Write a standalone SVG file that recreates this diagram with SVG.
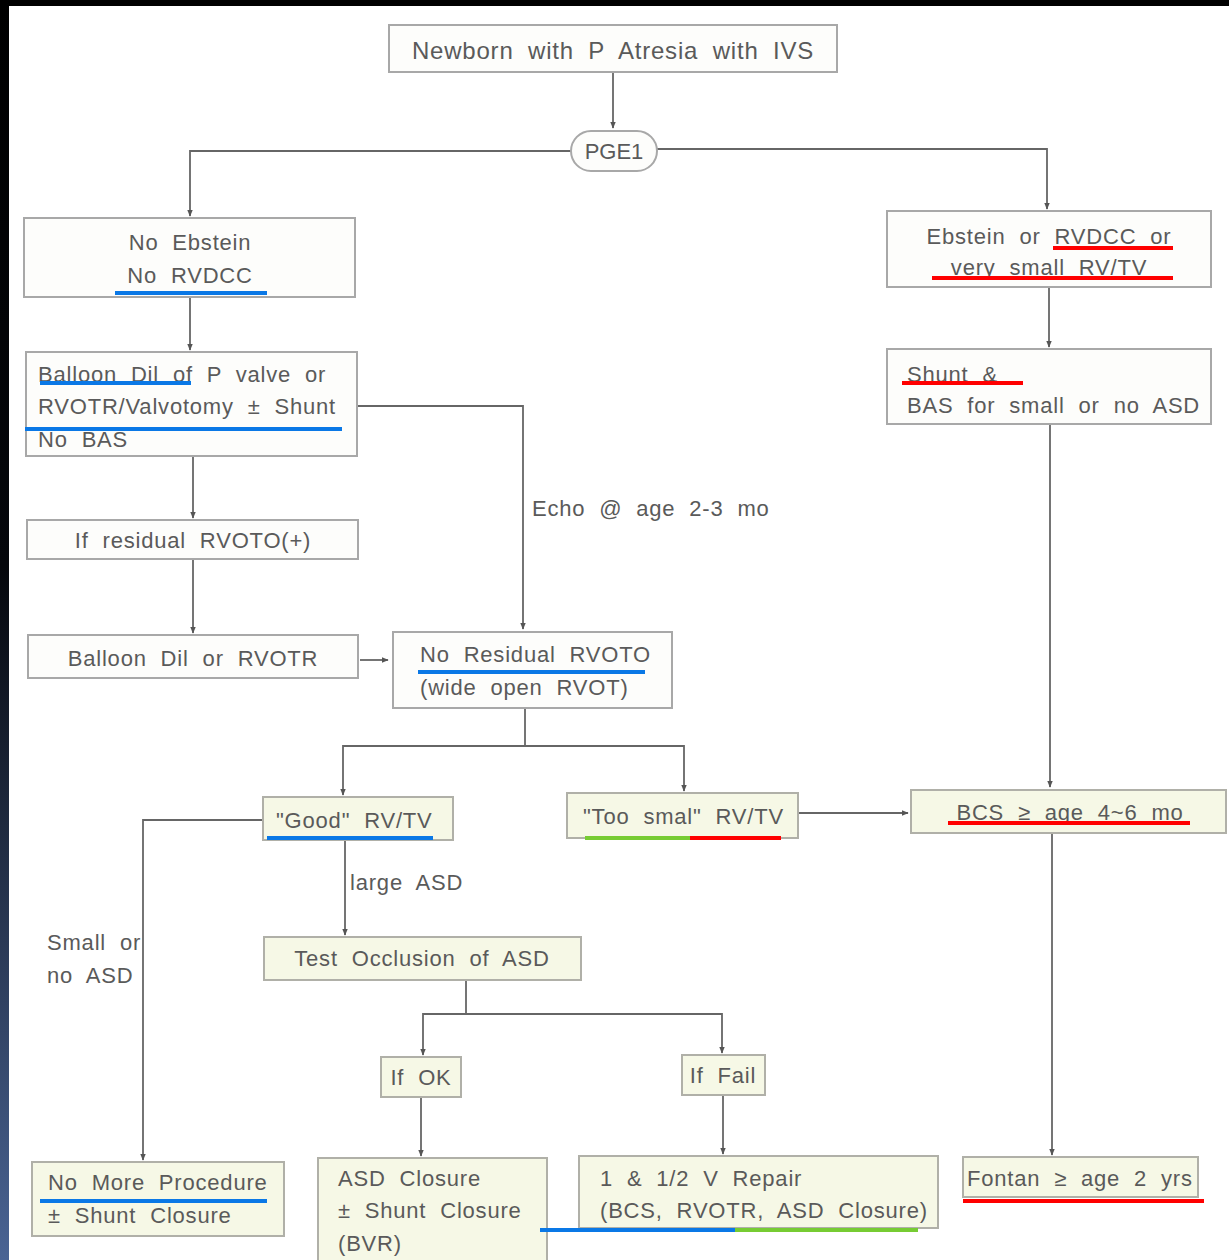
<svg xmlns="http://www.w3.org/2000/svg" width="1229" height="1260" viewBox="0 0 1229 1260">
<defs>
<linearGradient id="edge" x1="0" y1="0" x2="0" y2="1">
<stop offset="0" stop-color="#000"/><stop offset="0.45" stop-color="#05070c"/><stop offset="1" stop-color="#4a6494"/>
</linearGradient>
<marker id="ah" viewBox="0 0 10 10" refX="9" refY="5" markerWidth="7" markerHeight="7" orient="auto" markerUnits="userSpaceOnUse">
<path d="M0,1 L10,5 L0,9 z" fill="#555"/>
</marker>
<style>
.b{fill:#fdfdfb;stroke:#a8a8a8;stroke-width:2}
.y{fill:#f6f8e6;stroke:#b0b0a8;stroke-width:2}
.t{font-family:"Liberation Sans","DejaVu Sans",sans-serif;font-size:22px;fill:#5a5a5a;word-spacing:7px;letter-spacing:0.8px}
.c{text-anchor:middle}
.l{fill:none;stroke:#666;stroke-width:1.8}
.a{marker-end:url(#ah)}
.ub{stroke:#0a78e6;stroke-width:4}
.ur{stroke:#f00;stroke-width:4}
.ug{stroke:#77cc33;stroke-width:4}
</style>
</defs>
<rect width="1229" height="1260" fill="#fff"/>
<rect x="0" y="0" width="1229" height="6" fill="#000"/>
<rect x="0" y="0" width="9" height="1260" fill="url(#edge)"/>

<g id="connectors">
<path class="l a" d="M613,72 V128"/>
<path class="l a" d="M571,151 H190 V216"/>
<path class="l a" d="M657,149 H1047 V209"/>
<path class="l a" d="M190,297 V350"/>
<path class="l a" d="M357,406 H523 V629"/>
<path class="l a" d="M193,456 V518"/>
<path class="l a" d="M193,559 V633"/>
<path class="l a" d="M360,660 H388"/>
<path class="l" d="M525,708 V746"/>
<path class="l a" d="M525,746 H343 V795"/>
<path class="l a" d="M525,746 H684 V791"/>
<path class="l a" d="M798,813 H908"/>
<path class="l a" d="M1049,287 V347"/>
<path class="l a" d="M1050,424 V787"/>
<path class="l a" d="M1052,833 V1155"/>
<path class="l a" d="M263,820 H143 V1160"/>
<path class="l a" d="M345,840 V935"/>
<path class="l" d="M466,980 V1014"/>
<path class="l a" d="M466,1014 H423 V1055"/>
<path class="l a" d="M466,1014 H722 V1053"/>
<path class="l a" d="M421,1097 V1156"/>
<path class="l a" d="M723,1095 V1154"/>
<text class="t" x="532" y="516">Echo @ age 2-3 mo</text>
<text class="t" x="350" y="890">large ASD</text>
<text class="t" x="47" y="950">Small or</text>
<text class="t" x="47" y="983">no ASD</text>
</g>

<g id="n-newborn"><rect class="b" x="389" y="25" width="448" height="47"/><text class="t c" x="613" y="59" style="font-size:24px">Newborn with P Atresia with IVS</text></g>
<g id="n-pge1"><rect class="b" x="571" y="131" width="86" height="40" rx="20"/><text class="t c" x="614" y="159" style="word-spacing:0;letter-spacing:0">PGE1</text></g>
<g id="n-noebstein"><rect class="b" x="24" y="218" width="331" height="79"/><text class="t c" x="190" y="250">No Ebstein</text><text class="t c" x="190" y="283">No RVDCC</text><line class="ub" x1="115" y1="293" x2="267" y2="293"/></g>
<g id="n-balloon1"><rect class="b" x="26" y="352" width="331" height="104"/><text class="t" x="38" y="382">Balloon Dil of P valve or</text><text class="t" x="38" y="414">RVOTR/Valvotomy ± Shunt</text><text class="t" x="38" y="447">No BAS</text><line class="ub" x1="40" y1="383" x2="191" y2="383"/><line class="ub" x1="25" y1="429" x2="342" y2="429"/></g>
<g id="n-residual"><rect class="b" x="27" y="520" width="331" height="39"/><text class="t c" x="193" y="548">If residual RVOTO(+)</text></g>
<g id="n-balloon2"><rect class="b" x="28" y="635" width="330" height="43"/><text class="t c" x="193" y="666">Balloon Dil or RVOTR</text></g>
<g id="n-noresidual"><rect class="b" x="393" y="632" width="279" height="76"/><text class="t" x="420" y="662">No Residual RVOTO</text><text class="t" x="420" y="695">(wide open RVOT)</text><line class="ub" x1="418" y1="672" x2="645" y2="672"/></g>
<g id="n-good"><rect class="y" x="263" y="797" width="190" height="43"/><text class="t" x="276" y="828">"Good" RV/TV</text><line class="ub" x1="267" y1="838" x2="433" y2="838"/></g>
<g id="n-toosmall"><rect class="y" x="567" y="793" width="231" height="45"/><text class="t" x="583" y="824">"Too smal" RV/TV</text><line class="ug" x1="585" y1="838" x2="690" y2="838"/><line class="ur" x1="690" y1="838" x2="781" y2="838"/></g>
<g id="n-ebstein"><rect class="b" x="887" y="211" width="324" height="76"/><text class="t c" x="1049" y="244">Ebstein or RVDCC or</text><text class="t c" x="1049" y="275">very small RV/TV</text><line class="ur" x1="1053" y1="248" x2="1173" y2="248"/><line class="ur" x1="932" y1="278" x2="1173" y2="278"/></g>
<g id="n-shunt"><rect class="b" x="887" y="349" width="324" height="75"/><text class="t" x="907" y="382">Shunt &amp;</text><text class="t" x="907" y="413">BAS for small or no ASD</text><line class="ur" x1="902" y1="383" x2="1023" y2="383"/></g>
<g id="n-bcs"><rect class="y" x="911" y="790" width="315" height="43"/><text class="t c" x="1070" y="820">BCS ≥ age 4~6 mo</text><line class="ur" x1="948" y1="823" x2="1190" y2="823"/></g>
<g id="n-test"><rect class="y" x="264" y="937" width="317" height="43"/><text class="t c" x="422" y="966">Test Occlusion of ASD</text></g>
<g id="n-ifok"><rect class="y" x="381" y="1057" width="80" height="40"/><text class="t c" x="421" y="1085">If OK</text></g>
<g id="n-iffail"><rect class="y" x="682" y="1055" width="83" height="40"/><text class="t c" x="723" y="1083">If Fail</text></g>
<g id="n-nomore"><rect class="y" x="32" y="1162" width="252" height="74"/><text class="t" x="48" y="1190">No More Procedure</text><text class="t" x="48" y="1223">± Shunt Closure</text><line class="ub" x1="40" y1="1201" x2="267" y2="1201"/></g>
<g id="n-asd"><rect class="y" x="318" y="1158" width="229" height="110"/><text class="t" x="338" y="1186">ASD Closure</text><text class="t" x="338" y="1218">± Shunt Closure</text><text class="t" x="338" y="1251">(BVR)</text></g>
<g id="n-repair"><rect class="y" x="579" y="1156" width="359" height="72"/><text class="t" x="600" y="1186">1 &amp; 1/2 V Repair</text><text class="t" x="600" y="1218">(BCS, RVOTR, ASD Closure)</text><line class="ub" x1="540" y1="1230" x2="735" y2="1230"/><line class="ug" x1="735" y1="1230" x2="918" y2="1230"/></g>
<g id="n-fontan"><rect class="y" x="963" y="1157" width="235" height="40"/><text class="t" x="967" y="1186">Fontan ≥ age 2 yrs</text><line class="ur" x1="963" y1="1201" x2="1204" y2="1201"/></g>
</svg>
